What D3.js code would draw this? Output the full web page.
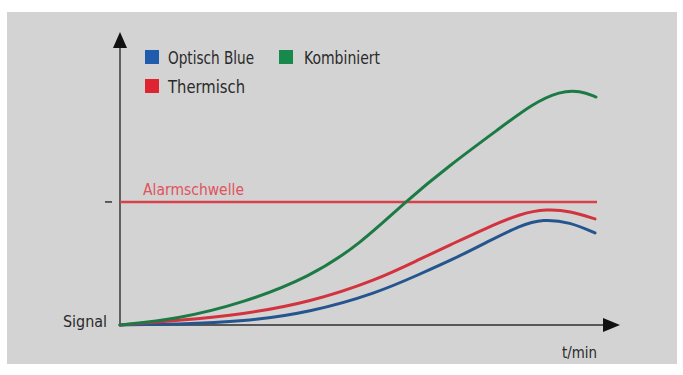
<!DOCTYPE html>
<html>
<head>
<meta charset="utf-8">
<script src="https://cdn.jsdelivr.net/npm/d3@7/dist/d3.min.js"></script>
<style>
  html, body { margin: 0; padding: 0; background: #ffffff; }
  svg { display: block; }
  text { font-family: "Liberation Sans Narrow", "DejaVu Sans Condensed", "Liberation Sans", sans-serif; }
</style>
</head>
<body>
<svg id="chart" width="683" height="375"></svg>
<script>
// Time axis (arbitrary units 0..100) and signal level (0..100)
const timeGreen = [0, 11.4, 24.6, 38, 48, 57, 66, 76, 82.6, 88, 92, 95.2];
const signalGreen = [0, 2.0, 7.5, 16.4, 27.6, 42, 54.6, 67.2, 75.6, 79.8, 80.0, 77.8];

const timeRed = [0, 11.4, 24.6, 38, 51.4, 60, 66.6, 73.4, 80, 85.4, 90, 95];
const signalRed = [0, 1.5, 3.6, 7.8, 15.4, 22.5, 27.8, 33.2, 38.0, 39.6, 38.9, 36.2];

const timeBlue = [0, 11.4, 24.6, 38, 51.4, 60, 66.6, 73.4, 80, 84.6, 90, 95];
const signalBlue = [0, 0.3, 1.1, 4.3, 10.9, 17.4, 22.4, 28.3, 34.0, 36.2, 35.1, 31.4];

const alarmLevel = 42;
const alarmEnd = 95.4;

const legendNames = ["Optisch Blue", "Kombiniert", "Thermisch"];
const legendColors = ["#1f5cae", "#17894a", "#de2430"];
const axisLabels = { y: "Signal", x: "t/min", alarm: "Alarmschwelle" };

const svg = d3.select("#chart");

// panel background
svg.append("rect").attr("x", 7).attr("y", 12).attr("width", 670).attr("height", 352)
  .attr("fill", "#d3d3d3");

const x = d3.scaleLinear().domain([0, 100]).range([120, 620]);
const y = d3.scaleLinear().domain([0, 100]).range([325, 32]);

const ink = "#2e2e2e";

// axes with arrowheads
svg.append("line").attr("x1", x(0)).attr("x2", x(0)).attr("y1", y(0)).attr("y2", y(97))
  .attr("stroke", ink).attr("stroke-width", 1.4);
svg.append("path")
  .attr("d", `M${x(0)},${y(100)} L${x(0) - 7},${y(94.5)} L${x(0) + 7},${y(94.5)} Z`)
  .attr("fill", "#111");
svg.append("line").attr("x1", x(0)).attr("x2", x(97)).attr("y1", y(0)).attr("y2", y(0))
  .attr("stroke", ink).attr("stroke-width", 1.4);
svg.append("path")
  .attr("d", `M${x(100)},${y(0)} L${x(96.6)},${y(0) - 7} L${x(96.6)},${y(0) + 7} Z`)
  .attr("fill", "#111");

// alarm threshold
svg.append("line").attr("x1", x(-3)).attr("x2", x(-1.6)).attr("y1", y(alarmLevel)).attr("y2", y(alarmLevel))
  .attr("stroke", "#333").attr("stroke-width", 1.5);
svg.append("line").attr("x1", x(0)).attr("x2", x(alarmEnd)).attr("y1", y(alarmLevel)).attr("y2", y(alarmLevel))
  .attr("stroke", "#d8404c").attr("stroke-width", 2.4);
svg.append("text").attr("x", 143).attr("y", 195).text(axisLabels.alarm)
  .attr("font-size", 16).attr("fill", "#e0525c")
  .attr("textLength", 101).attr("lengthAdjust", "spacingAndGlyphs");

// curves
const line = d3.line().x(d => x(d[0])).y(d => y(d[1])).curve(d3.curveBasis);
const series = [
  { t: timeBlue, s: signalBlue, color: "#25558f" },
  { t: timeRed, s: signalRed, color: "#d3323f" },
  { t: timeGreen, s: signalGreen, color: "#1c7a45" }
];
series.forEach(sr => {
  svg.append("path")
    .attr("d", line(sr.t.map((t, i) => [t, sr.s[i]])))
    .attr("fill", "none").attr("stroke", sr.color)
    .attr("stroke-width", 3).attr("stroke-linecap", "round");
});

// axis labels
svg.append("text").attr("x", 63).attr("y", 327).text(axisLabels.y)
  .attr("font-size", 16).attr("fill", "#2a2a2a")
  .attr("textLength", 44).attr("lengthAdjust", "spacingAndGlyphs");
svg.append("text").attr("x", 562).attr("y", 358).text(axisLabels.x)
  .attr("font-size", 16).attr("fill", "#2a2a2a")
  .attr("textLength", 35).attr("lengthAdjust", "spacingAndGlyphs");

// legend
const legendPos = [
  { sx: 145, sy: 50, tx: 168, ty: 64, w: 86 },
  { sx: 279, sy: 50, tx: 304, ty: 64, w: 76 },
  { sx: 145, sy: 79, tx: 168, ty: 93, w: 77 }
];
legendNames.forEach((name, i) => {
  const p = legendPos[i];
  svg.append("rect").attr("x", p.sx).attr("y", p.sy).attr("width", 14).attr("height", 14)
    .attr("fill", legendColors[i]);
  svg.append("text").attr("x", p.tx).attr("y", p.ty).text(name)
    .attr("font-size", 17).attr("fill", "#2a2a2a")
    .attr("textLength", p.w).attr("lengthAdjust", "spacingAndGlyphs");
});
</script>
</body>
</html>
